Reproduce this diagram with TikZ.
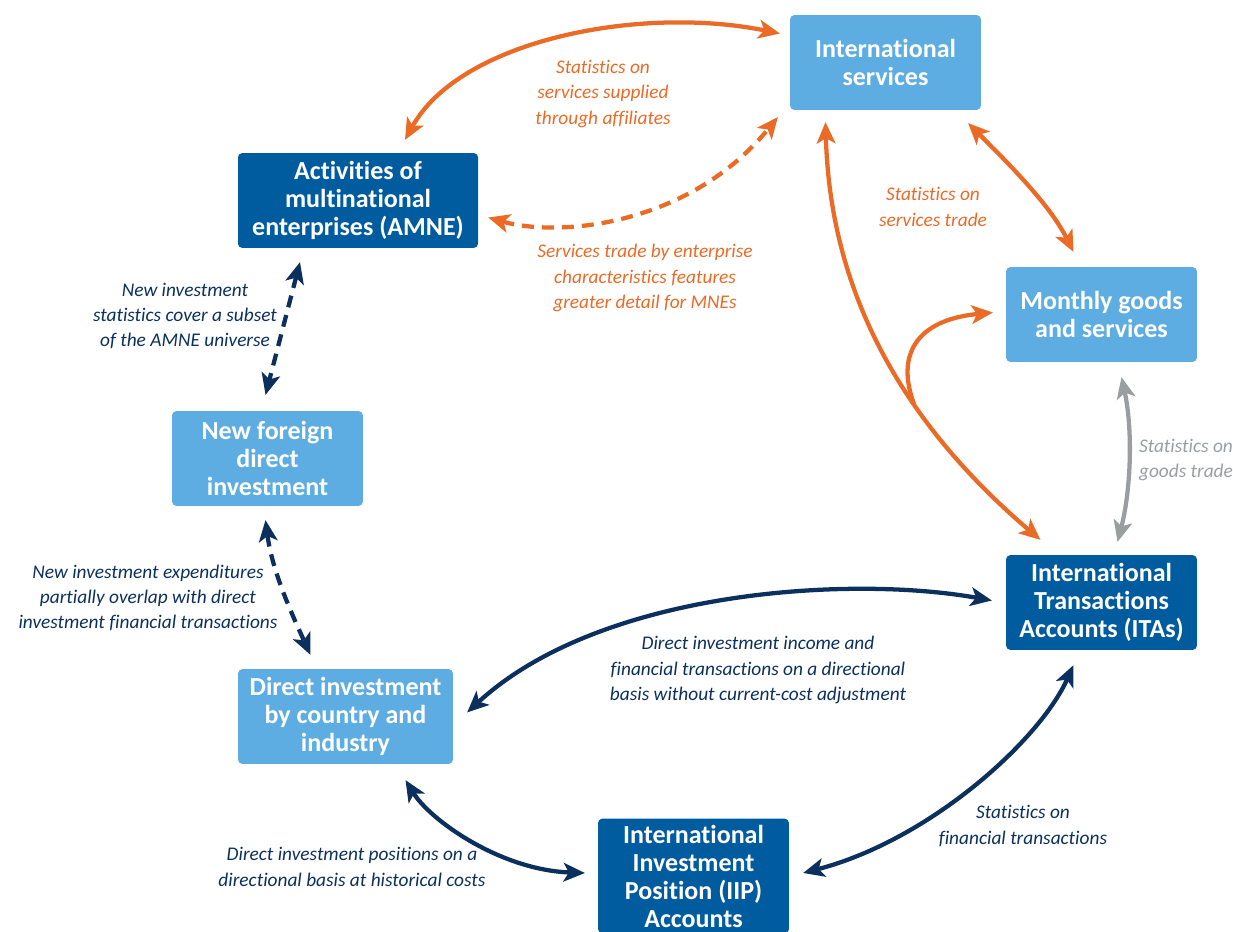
\documentclass[tikz,border=0pt]{standalone}
\usepackage{fontspec}
\setmainfont[Ligatures=NoCommon]{Carlito}
\usetikzlibrary{arrows.meta}
\definecolor{lightbox}{RGB}{93,173,226}
\definecolor{darkbox}{RGB}{0,91,159}
\definecolor{orangeline}{RGB}{234,106,38}
\definecolor{navyline}{RGB}{12,48,94}
\definecolor{grayline}{RGB}{154,158,161}
\begin{document}
\begin{tikzpicture}[x=0.75pt,y=-0.75pt]
                \tikzset{>={Stealth[length=16pt,width=14pt,inset=4pt]}}
                \tikzset{box/.style={rectangle,rounded corners=3pt,minimum width=143pt,minimum height=71pt,
                        align=center,text=white,font=\fontsize{19.5}{21}\selectfont\bfseries,inner sep=2pt}}
                \tikzset{lightbox/.style={box,fill=lightbox}}
                \tikzset{darkbox/.style={box,fill=darkbox}}
                \tikzset{note/.style={align=center,font=\fontsize{14.5}{19}\selectfont\itshape}}
                \tikzset{link/.style={line width=3.2pt}}
                \tikzset{dashlink/.style={link,dash pattern=on 9pt off 6pt}}
                \useasboundingbox (0,0) rectangle (1233,932);

                \node[lightbox] (isvc) at (885.5,62.5) {International\\services};
                \node[darkbox,minimum width=180pt] (amne) at (358,200.5) {Activities of\\multinational\\enterprises (AMNE)};
                \node[lightbox] (monthly) at (1101.5,314.5) {Monthly goods\\and services};
                \node[lightbox] (nfdi) at (267.5,458.5) {New foreign\\direct\\investment};
                \node[darkbox] (ita) at (1101.5,602.5) {International\\Transactions\\Accounts (ITAs)};
                \node[lightbox,minimum width=161pt] (dibci) at (345.5,716.5) {Direct investment\\by country and\\industry};
                \node[darkbox,minimum height=86pt] (iip) at (693.5,876) {International\\Investment\\Position (IIP)\\Accounts};

                \node[note,text=orangeline] (affil) at (603,94) {Statistics on\\services supplied\\through affiliates};
                \node[note,text=orangeline] (charac) at (645,278) {Services trade by enterprise\\characteristics features\\greater detail for MNEs};
                \node[note,text=orangeline] (svctrade) at (933,207) {Statistics on\\services trade};
                \node[note,text=grayline] (goodstrade) at (1186,460) {Statistics on\\goods trade};
                \node[note,text=navyline] (subset) at (185,316) {New investment\\statistics cover a subset\\of the AMNE universe};
                \node[note,text=navyline] (overlap) at (148,598) {New investment expenditures\\partially overlap with direct\\investment financial transactions};
                \node[note,text=navyline] (income) at (758,670) {Direct investment income and\\financial transactions on a directional\\basis without current-cost adjustment};
                \node[note,text=navyline] (positions) at (352,867) {Direct investment positions on a\\directional basis at historical costs};
                \node[note,text=navyline] (fintrans) at (1023,826) {Statistics on\\financial transactions};

                % orange links
                \draw[link,orangeline,<->] ([shift={(47,-13)}]amne.north) .. controls (460,40) and (640,5) .. ([shift={(-10,-29)}]isvc.west);
                \draw[dashlink,orangeline,<->] ([shift={(10,17)}]amne.east) .. controls (560,238) and (690,225) .. ([shift={(-12,7)}]isvc.south west);
                \draw[link,orangeline,<->] ([shift={(-60,12)}]isvc.south) .. controls (830,290) and (900,420) .. ([shift={(-61,-15)}]ita.north);
                \draw[link,orangeline,<->] ([shift={(-13,13)}]isvc.south east) .. controls (1010,165) and (1050,205) .. ([shift={(-28,-15)}]monthly.north);
                \coordinate (branch) at (914,404);
                \draw[link,orangeline,->] (branch) .. controls (896,356) and (915,320) .. ([shift={(-13,-2)}]monthly.west);

                % gray link
                \draw[link,grayline,<->] ([shift={(20,15)}]monthly.south) .. controls (1133,430) and (1131,490) .. ([shift={(16,-13)}]ita.north);

                % navy links
                \draw[dashlink,navyline,<->] ([shift={(-58,14)}]amne.south) -- ([shift={(-2,-16)}]nfdi.north);
                \draw[dashlink,navyline,<->] ([shift={(-2,14)}]nfdi.south) .. controls (272,570) and (290,610) .. ([shift={(-35,-14)}]dibci.north);
                \draw[link,navyline,<->] ([shift={(-14,-2)}]ita.west) .. controls (850,575) and (600,590) .. ([shift={(14,-4)}]dibci.east);
                \draw[link,navyline,<->] ([shift={(60,16)}]dibci.south) .. controls (430,820) and (500,870) .. ([shift={(-13,-3)}]iip.west);
                \draw[link,navyline,<->] ([shift={(-28,15)}]ita.south) .. controls (1040,740) and (930,840) .. ([shift={(14,-3)}]iip.east);
            \end{tikzpicture}
\end{document}
